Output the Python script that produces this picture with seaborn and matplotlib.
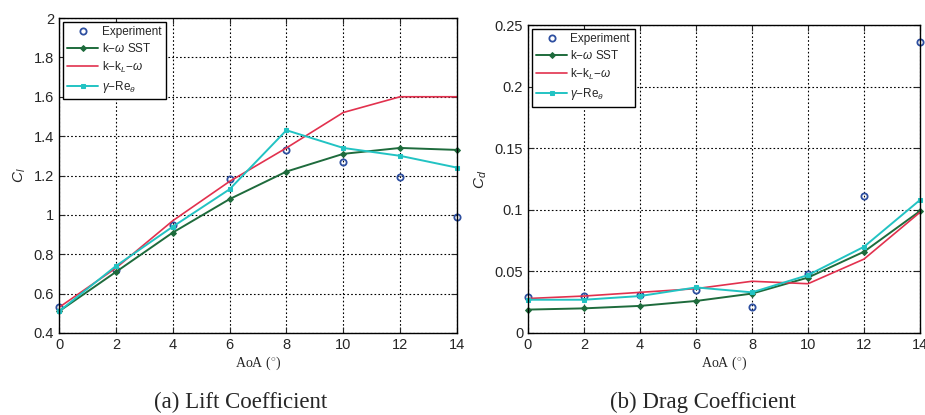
import numpy as np
import pandas as pd
import matplotlib
matplotlib.use("Agg")
import matplotlib.pyplot as plt
import seaborn as sns

aoa = [0, 2, 4, 6, 8, 10, 12, 14]

# lift coefficient
cl_exp = [0.53, 0.72, 0.95, 1.18, 1.33, 1.27, 1.19, 0.99]
cl_sst = [0.51, 0.71, 0.91, 1.08, 1.22, 1.31, 1.34, 1.33]
cl_kkl = [0.53, 0.73, 0.97, 1.17, 1.34, 1.52, 1.60, 1.60]
cl_gam = [0.51, 0.74, 0.94, 1.13, 1.43, 1.34, 1.30, 1.24]

# drag coefficient
cd_exp = [0.029, 0.030, 0.031, 0.035, 0.021, 0.048, 0.111, 0.236]
cd_sst = [0.019, 0.020, 0.022, 0.026, 0.032, 0.045, 0.066, 0.099]
cd_kkl = [0.028, 0.030, 0.033, 0.036, 0.042, 0.040, 0.060, 0.098]
cd_gam = [0.027, 0.027, 0.030, 0.037, 0.033, 0.047, 0.070, 0.108]

labels = ["Experiment", r"k$-\omega$ SST", r"k$-$k$_L$$-\omega$", r"$\gamma$$-$Re$_\theta$"]

sns.set_style("ticks")
plt.rcParams["font.family"] = ["Liberation Sans", "DejaVu Sans"]
plt.rcParams["mathtext.fontset"] = "custom"
plt.rcParams["mathtext.rm"] = "Liberation Sans"
plt.rcParams["mathtext.it"] = "Liberation Sans:italic"

fig = plt.figure(figsize=(9.25, 4.15), dpi=100)
ax1 = fig.add_axes([0.0638, 0.1976, 0.4302, 0.759])
ax2 = fig.add_axes([0.5708, 0.1976, 0.4238, 0.742])


def draw(ax, exp, sst, kkl, gam):
    sns.lineplot(x=aoa, y=exp, ax=ax, ls="", marker="o", ms=4.5, mfc="none",
                 mec="#2e4fa0", mew=1.3, label=labels[0], clip_on=False)
    sns.lineplot(x=aoa, y=sst, ax=ax, color="#1e6b3c", lw=1.4, marker="D", ms=3,
                 mec="#1e6b3c", label=labels[1], clip_on=False)
    sns.lineplot(x=aoa, y=kkl, ax=ax, color="#e2314e", lw=1.2, label=labels[2])
    sns.lineplot(x=aoa, y=gam, ax=ax, color="#22c3c3", lw=1.4, marker="s", ms=2.5,
                 mec="#22c3c3", label=labels[3], clip_on=False)
    ax.set_xlim(0, 14)
    ax.set_xticks(range(0, 15, 2))
    ax.grid(True, ls=(0, (1.5, 2)), color="black", lw=0.8)
    ax.tick_params(direction="in", top=True, right=True, labelsize=10.5, length=4)
    for s in ax.spines.values():
        s.set_color("black")
        s.set_linewidth(1.0)
    ax.set_xlabel(r"AoA ($^{\circ}$)", family="Liberation Serif", fontsize=10, labelpad=2)
    leg = ax.legend(loc="upper left", fontsize=8.5, frameon=True, fancybox=False,
                    edgecolor="black", framealpha=1, handlelength=2.6,
                    borderaxespad=0.3, labelspacing=0.35, handletextpad=0.3)
    leg.get_frame().set_linewidth(1.0)


draw(ax1, cl_exp, cl_sst, cl_kkl, cl_gam)
ax1.set_ylim(0.4, 2.0)
ax1.set_yticks([0.4, 0.6, 0.8, 1.0, 1.2, 1.4, 1.6, 1.8, 2.0])
ax1.set_yticklabels(["0.4", "0.6", "0.8", "1", "1.2", "1.4", "1.6", "1.8", "2"])
ax1.set_ylabel(r"$C_l$", family="Liberation Serif", fontsize=11, labelpad=4)

draw(ax2, cd_exp, cd_sst, cd_kkl, cd_gam)
ax2.set_ylim(0, 0.25)
ax2.set_yticks([0, 0.05, 0.1, 0.15, 0.2, 0.25])
ax2.set_yticklabels(["0", "0.05", "0.1", "0.15", "0.2", "0.25"])
ax2.set_ylabel(r"$C_d$", family="Liberation Serif", fontsize=11, labelpad=4)

fig.text(0.2605, 0.03, "(a) Lift Coefficient", family="Liberation Serif", fontsize=16.5,
         ha="center", va="center")
fig.text(0.76, 0.03, "(b) Drag Coefficient", family="Liberation Serif", fontsize=16.5,
         ha="center", va="center")

fig.savefig("out.png", dpi=100)
